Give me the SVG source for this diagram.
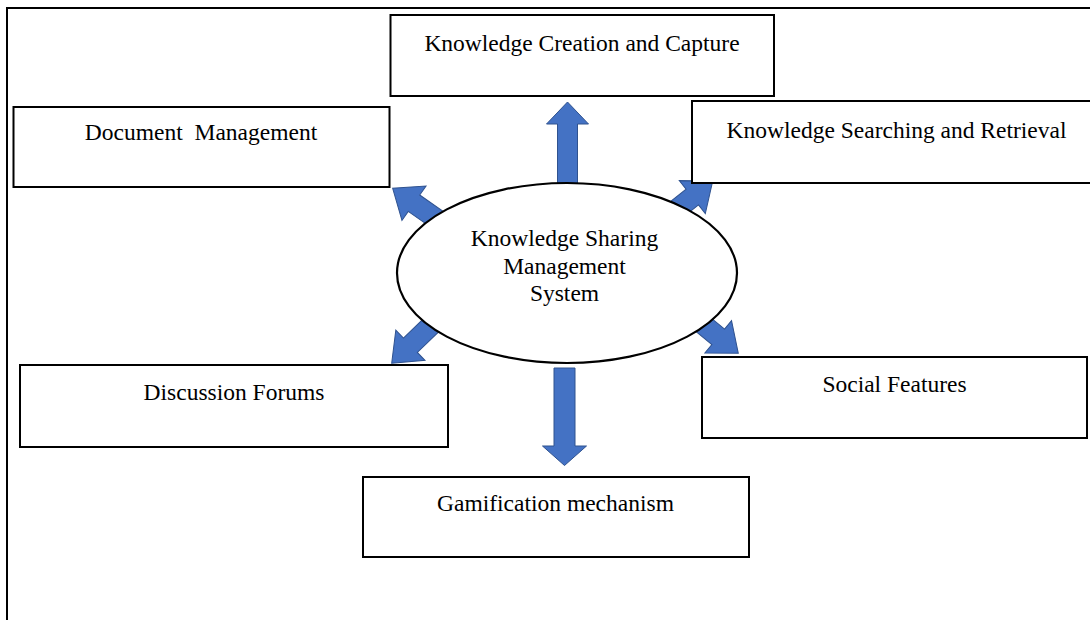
<svg xmlns="http://www.w3.org/2000/svg" width="1090" height="620" viewBox="0 0 1090 620">
  <defs>
    <style>
      .box { fill: #ffffff; stroke: #000000; stroke-width: 2; }
      .frame { fill: none; stroke: #000000; stroke-width: 2; }
      .hub { fill: #ffffff; stroke: #000000; stroke-width: 2.2; }
      .arrow { fill: #4472C4; stroke: #2F528F; stroke-width: 1; stroke-linejoin: miter; }
      .label { font-family: "Liberation Serif", "Times New Roman", serif; font-size: 23.5px; fill: #000000; text-anchor: middle; }
    </style>
    <!-- block arrow pointing along +x, tip at the origin -->
    <polygon id="blockArrow" points="0,0 -26,-21 -26,-10 -62,-10 -62,10 -26,10 -26,21"/>
  </defs>

  <rect x="0" y="0" width="1090" height="620" fill="#ffffff"/>

  <!-- outer frame (continues past the right and bottom edges) -->
  <rect class="frame" x="7" y="8" width="1100" height="640"/>

  <!-- connectors: block arrows radiating from the hub -->
  <g id="connectors">
    <polygon class="arrow" points="567.5,102 588.5,124 577.5,124 577.5,200 557.5,200 557.5,124 546.5,124"/>
    <polygon class="arrow" points="564.5,465.5 586.5,446 575,446 575,368 554,368 554,446 542.5,446"/>
    <use href="#blockArrow" class="arrow" transform="translate(392.7,188.3) rotate(-145)"/>
    <use href="#blockArrow" class="arrow" transform="translate(712.7,181) rotate(-38.3)"/>
    <use href="#blockArrow" class="arrow" transform="translate(391.7,363.3) rotate(136)"/>
    <use href="#blockArrow" class="arrow" transform="translate(738.3,353.3) rotate(39.4)"/>
  </g>

  <g id="node-hub">
    <ellipse class="hub" cx="567" cy="273" rx="170" ry="90"/>
    <text class="label" x="564.5" y="246">Knowledge Sharing</text>
    <text class="label" x="564.5" y="274">Management</text>
    <text class="label" x="564.5" y="301">System</text>
  </g>

  <g id="node-creation">
    <rect class="box" x="390.5" y="15" width="383.5" height="81"/>
    <text class="label" x="582" y="51">Knowledge Creation and Capture</text>
  </g>

  <g id="node-documents">
    <rect class="box" x="13.5" y="107" width="376" height="80"/>
    <text class="label" x="201" y="140" word-spacing="6">Document Management</text>
  </g>

  <g id="node-search">
    <rect class="box" x="692" y="101" width="410" height="82"/>
    <text class="label" x="896.5" y="138">Knowledge Searching and Retrieval</text>
  </g>

  <g id="node-forums">
    <rect class="box" x="20" y="365" width="428" height="82"/>
    <text class="label" x="234" y="400">Discussion Forums</text>
  </g>

  <g id="node-social">
    <rect class="box" x="702" y="357" width="385" height="81"/>
    <text class="label" x="894.5" y="392">Social Features</text>
  </g>

  <g id="node-gamification">
    <rect class="box" x="363" y="477" width="386" height="80"/>
    <text class="label" x="555.5" y="511">Gamification mechanism</text>
  </g>
</svg>
